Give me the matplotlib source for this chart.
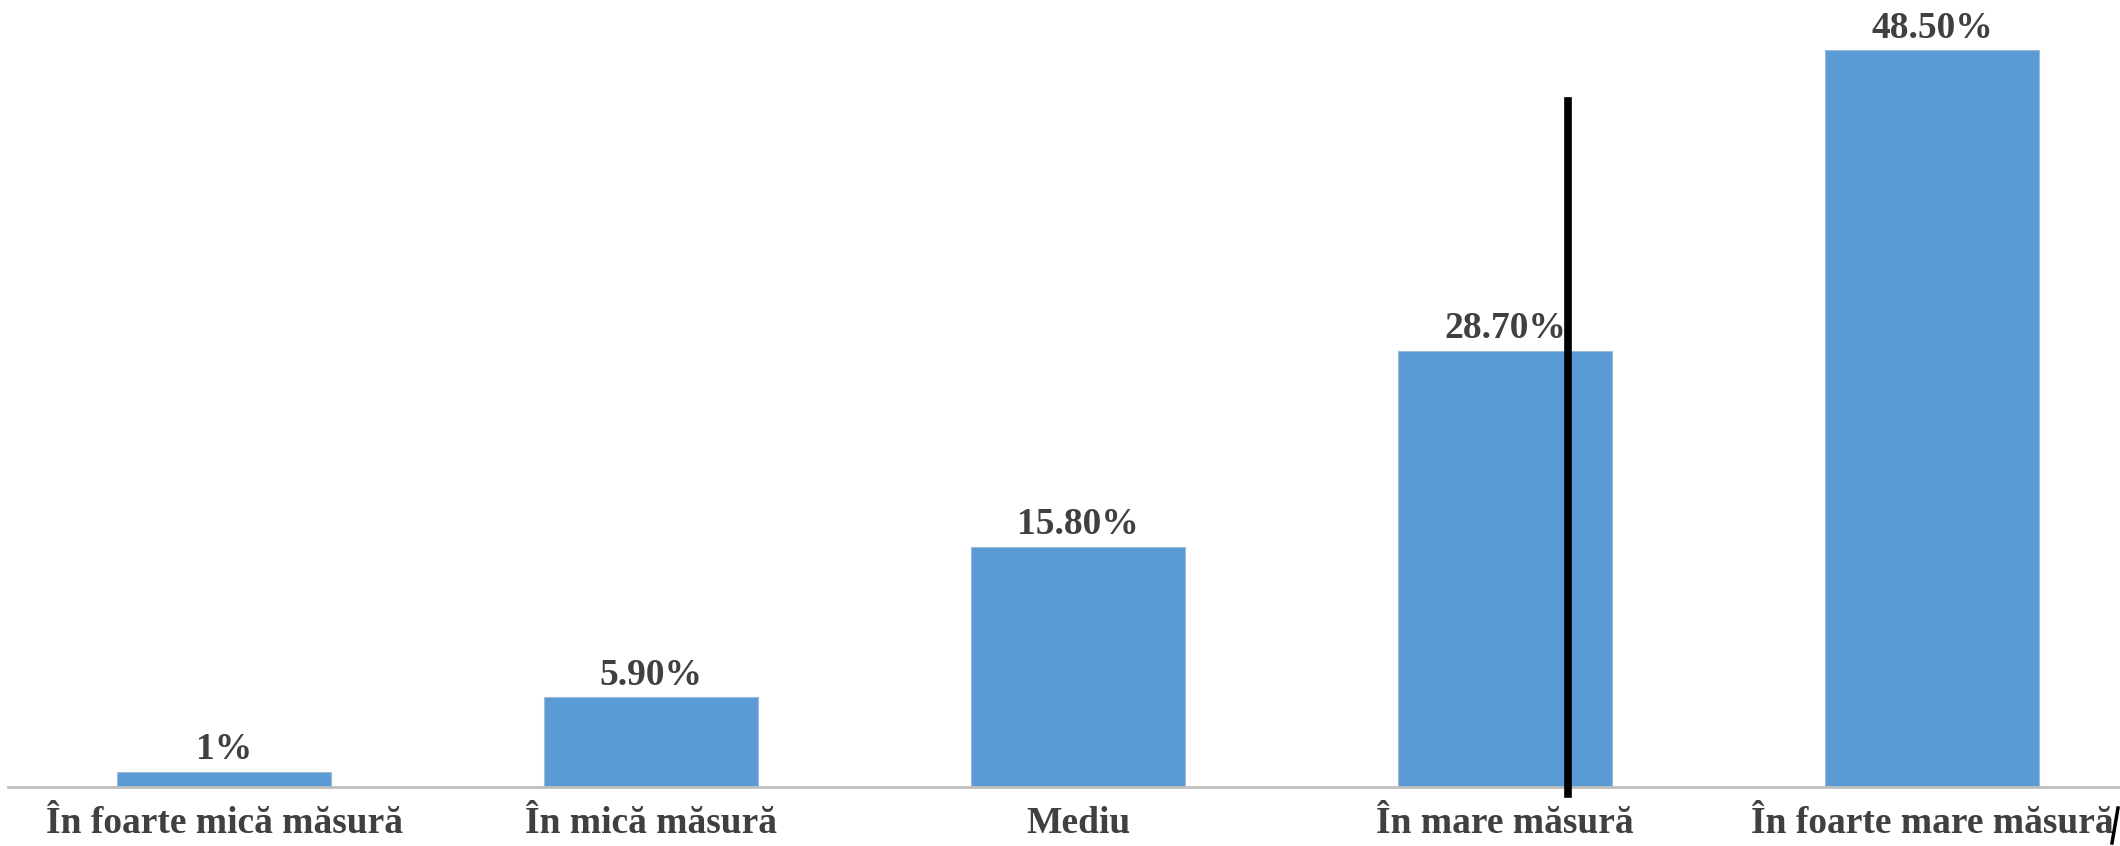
import matplotlib.pyplot as plt
import numpy as np
from matplotlib.lines import Line2D

categories = ['În foarte mică măsură', 'În mică măsură', 'Mediu', 'În mare măsură', 'În foarte mare măsură']
values = [1.0, 5.9, 15.8, 28.7, 48.5]
labels = ['1%', '5.90%', '15.80%', '28.70%', '48.50%']

plt.rcParams['font.family'] = ['Liberation Serif', 'DejaVu Serif']

fig = plt.figure(figsize=(21.2, 8.46), dpi=100)
ax = fig.add_axes([8 / 2120, 59 / 846, 1 - 8 / 2120, 787 / 846])

x = np.arange(len(categories))
bars = ax.bar(x, values, width=0.5, color='#5B9BD5', edgecolor='#9DBBD8', linewidth=0.8)

for b, lab in zip(bars, labels):
    ax.text(b.get_x() + b.get_width() / 2, b.get_height() + 0.3, lab,
            ha='center', va='bottom', fontsize=27, fontweight='bold', color='#404040')

ax.set_xlim(-0.506, 4.44)
ax.set_ylim(0, 51.8)
ax.set_xticks(x)
ax.set_xticklabels(categories, fontsize=27, fontweight='bold', color='#404040')
ax.tick_params(axis='x', length=0, pad=14)
ax.set_yticks([])
for s in ['top', 'right', 'left']:
    ax.spines[s].set_visible(False)
ax.spines['bottom'].set_color('#BFBFBF')
ax.spines['bottom'].set_linewidth(2)

# black marks present in the source image
fig.add_artist(Line2D([1568 / 2120, 1568 / 2120], [1 - 101 / 846, 1 - 794 / 846],
                      color='black', linewidth=5.5, transform=fig.transFigure))
fig.add_artist(Line2D([2112 / 2120, 2118 / 2120], [1 - 843 / 846, 1 - 808 / 846],
                      color='black', linewidth=2.5, transform=fig.transFigure))

fig.savefig('out.png', dpi=100)
